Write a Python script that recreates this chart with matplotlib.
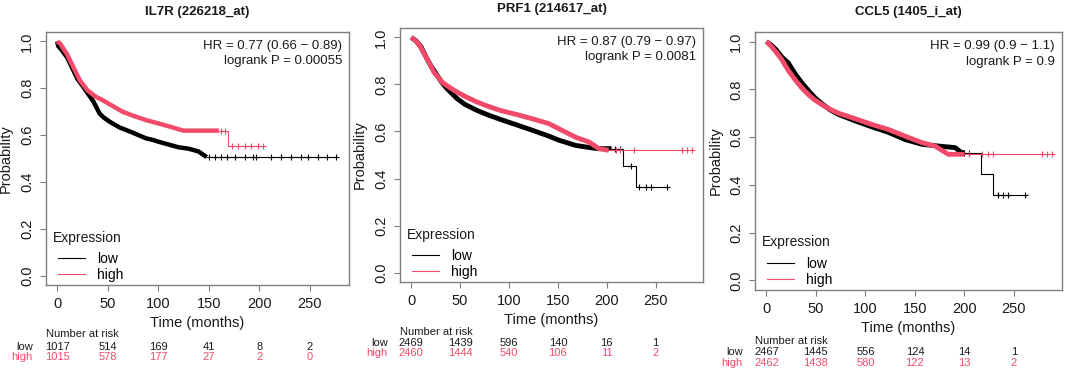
import matplotlib
matplotlib.use("Agg")
import matplotlib.pyplot as plt
import matplotlib.transforms as mtransforms
from matplotlib.lines import Line2D
import numpy as np

plt.rcParams['font.family'] = ['Liberation Sans', 'DejaVu Sans']

# ---- data ----
titles = ['IL7R (226218_at)', 'PRF1 (214617_at)', 'CCL5 (1405_i_at)']
hr_text = ['HR = 0.77 (0.66 \u2212 0.89)', 'HR = 0.87 (0.79 \u2212 0.97)', 'HR = 0.99 (0.9 \u2212 1.1)']
p_text = ['logrank P = 0.00055', 'logrank P = 0.0081', 'logrank P = 0.9']

# IL7R
il7r_low_t = [0, 1, 5, 10, 16, 20, 26, 30, 36, 42, 46, 52, 58, 62, 68, 75, 82, 88, 95, 100, 110, 120, 130, 140, 148]
il7r_low_s = [1.0, 0.98, 0.96, 0.93, 0.876, 0.84, 0.805, 0.78, 0.742, 0.692, 0.675, 0.657, 0.642, 0.632, 0.622,
              0.61, 0.597, 0.586, 0.579, 0.572, 0.56, 0.548, 0.542, 0.53, 0.506]
il7r_low_end = 276
il7r_low_cens = [150, 156.5, 162.4, 168, 176, 186, 194, 197, 212, 222, 232, 241.5, 248, 258, 267.6, 275.8]
il7r_high_t = [0, 3, 9.5, 16, 22.5, 30, 38, 45, 55, 65, 75, 88, 100, 110, 117, 125, 169.6]
il7r_high_s = [1.0, 0.99, 0.947, 0.89, 0.833, 0.791, 0.764, 0.749, 0.724, 0.699, 0.683, 0.664, 0.65, 0.638,
               0.629, 0.619, 0.555]
il7r_high_end = 205.6
il7r_high_cens = [162, 166, 172.9, 179.4, 186, 192.4, 199, 204]

# PRF1
prf1_low_t = [0, 5, 10, 16, 20, 26.6, 31, 36.8, 42, 47.1, 55, 67.5, 80, 91.5, 110, 124, 141, 151, 168, 185, 192,
              216.6, 229.6]
prf1_low_s = [1.0, 0.985, 0.96, 0.91, 0.88, 0.838, 0.81, 0.781, 0.76, 0.739, 0.715, 0.689, 0.668, 0.651, 0.625,
              0.605, 0.58, 0.563, 0.541, 0.53, 0.527, 0.452, 0.362]
prf1_low_end = 262
prf1_low_cens = [208, 214, 224.4, 232.9, 239.8, 244.9, 261.9]
prf1_high_t = [0, 5, 9.6, 16.4, 23.2, 31.7, 40, 47.1, 57, 67.5, 80, 91.5, 108, 124, 141, 158, 168, 182, 192, 202]
prf1_high_s = [1.0, 0.985, 0.958, 0.908, 0.852, 0.809, 0.785, 0.767, 0.745, 0.725, 0.705, 0.689, 0.672, 0.654,
               0.633, 0.597, 0.576, 0.555, 0.527, 0.52]
prf1_high_end = 288
prf1_high_cens = [210, 214, 227.8, 277, 282, 287.5]

# CCL5
ccl5_low_t = [0, 5, 10, 15.6, 22.2, 29, 35.8, 42.4, 49.2, 56, 64, 72.8, 89.6, 106.5, 123.2, 140, 157, 175, 190.6,
              197, 216.5, 228.5]
ccl5_low_s = [1.0, 0.985, 0.965, 0.935, 0.91, 0.865, 0.827, 0.795, 0.764, 0.74, 0.715, 0.695, 0.668, 0.643, 0.62,
              0.59, 0.57, 0.562, 0.556, 0.535, 0.445, 0.358]
ccl5_low_end = 263
ccl5_low_cens = [200, 205, 234.3, 239.4, 244.4, 261.3]
ccl5_high_t = [0, 5, 10, 15.6, 22, 29, 36, 42.4, 49, 56, 64, 72.8, 89.6, 106.5, 123.2, 140, 157, 170.4, 177, 183.8]
ccl5_high_s = [1.0, 0.98, 0.955, 0.924, 0.88, 0.84, 0.805, 0.778, 0.755, 0.736, 0.717, 0.70, 0.677, 0.653, 0.632,
               0.604, 0.577, 0.5625, 0.545, 0.528]
ccl5_high_end = 288
ccl5_high_cens = [205, 217.6, 224.2, 229.3, 278, 283, 288]

risk_times = [0, 50, 100, 150, 200, 250]
il7r_risk_low = [1017, 514, 169, 41, 8, 2]
il7r_risk_high = [1015, 578, 177, 27, 2, 0]
prf1_risk_low = [2469, 1439, 596, 140, 16, 1]
prf1_risk_high = [2460, 1444, 540, 106, 11, 2]
ccl5_risk_low = [2467, 1445, 556, 124, 14, 1]
ccl5_risk_high = [2462, 1438, 580, 122, 13, 2]

panels = [
    dict(low=(il7r_low_t, il7r_low_s, il7r_low_end, il7r_low_cens, 148),
         high=(il7r_high_t, il7r_high_s, il7r_high_end, il7r_high_cens, 160),
         risk=(il7r_risk_low, il7r_risk_high)),
    dict(low=(prf1_low_t, prf1_low_s, prf1_low_end, prf1_low_cens, 205),
         high=(prf1_high_t, prf1_high_s, prf1_high_end, prf1_high_cens, 202),
         risk=(prf1_risk_low, prf1_risk_high)),
    dict(low=(ccl5_low_t, ccl5_low_s, ccl5_low_end, ccl5_low_cens, 200),
         high=(ccl5_high_t, ccl5_high_s, ccl5_high_end, ccl5_high_cens, 200),
         risk=(ccl5_risk_low, ccl5_risk_high)),
]

# ---- layout (pixels of a 1065x369 canvas) ----
W, H = 1065, 369
boxes = [(46, 32, 349, 285), (400, 28, 703, 282), (755, 32, 1062, 290)]   # left, top, right, bottom
xlims = [(-11.1, 289), (-11.5, 298.5), (-11.5, 298.5)]
title_y = [12, 9, 12]
risk_y = [(334, 347, 357), (332, 343, 353), (341, 352, 363)]
band_lw = [3.2, 3.5, 3.5]

RED = '#F24A6A'
GREY = '#7f7f7f'
TXT = '#1a1a1a'


def value_at(t, s, x):
    i = np.searchsorted(t, x, side='right') - 1
    return np.asarray(s)[i]


def km(ax, curve, color, lw_band):
    t, s, t_end, cens, dense_to = curve
    t = np.asarray(t, float)
    s = np.asarray(s, float)
    # dense part: drawn as a thick band (censor marks piled up)
    m = t <= dense_to
    td = np.append(t[m], dense_to)
    sd = np.append(s[m], value_at(t, s, dense_to))
    ax.plot(td, sd, color=color, lw=lw_band, solid_capstyle='butt', solid_joinstyle='round')
    # tail as a thin step line
    tt = np.concatenate([[dense_to], t[~m], [t_end]])
    st = np.concatenate([[value_at(t, s, dense_to)], s[~m], [s[-1]]])
    ax.step(tt, st, where='post', color=color, lw=0.8)
    ax.plot(cens, value_at(t, s, np.asarray(cens)), '+', color=color, ms=5, mew=0.8)


fig = plt.figure(figsize=(W / 100, H / 100), dpi=100)

for k, p in enumerate(panels):
    l, tp, r, b = boxes[k]
    ax = fig.add_axes([l / W, 1 - b / H, (r - l) / W, (b - tp) / H])
    km(ax, p['low'], 'black', band_lw[k])
    km(ax, p['high'], RED, band_lw[k])

    ax.set_xlim(*xlims[k])
    ax.set_ylim(-0.04, 1.04)
    ax.set_xticks(risk_times)
    ax.set_yticks([0, 0.2, 0.4, 0.6, 0.8, 1.0])
    ax.set_yticklabels(['0.0', '0.2', '0.4', '0.6', '0.8', '1.0'], rotation=90, va='center')
    ax.tick_params(length=4.5, width=0.8, color=GREY, labelsize=10.5, labelcolor=TXT, pad=4)
    for sp in ax.spines.values():
        sp.set_color(GREY)
        sp.set_linewidth(1.0)
    ax.set_xlabel('Time (months)', fontsize=10.5, color=TXT, labelpad=4)
    ax.set_ylabel('Probability', fontsize=10.5, color=TXT, labelpad=5)

    fig.text((l + r) / 2 / W, 1 - title_y[k] / H, titles[k], ha='center', va='center',
             fontsize=9.5, fontweight='bold', color=TXT)

    ax.text(0.977, 0.945, hr_text[k], transform=ax.transAxes, ha='right', va='center', fontsize=9.5, color=TXT)
    ax.text(0.977, 0.885, p_text[k], transform=ax.transAxes, ha='right', va='center', fontsize=9.5, color=TXT)

    # legend: title as plain text, entries via legend()
    ax.text(0.024, 0.187, 'Expression', transform=ax.transAxes, ha='left', va='center', fontsize=10, color=TXT)
    handles = [Line2D([], [], color='black', lw=0.8), Line2D([], [], color=RED, lw=0.8)]
    ax.legend(handles, ['low', 'high'], loc='lower left', bbox_to_anchor=(0.04, 0.012),
              frameon=False, fontsize=10, handlelength=1.9, handletextpad=0.9,
              labelspacing=0.12, borderpad=0, borderaxespad=0)

    # number at risk table
    tr = mtransforms.blended_transform_factory(ax.transData, fig.transFigure)
    low_r, high_r = p['risk']
    y0, y1, y2 = risk_y[k]
    ax.text(xlims[k][0], 1 - y0 / H, 'Number at risk', transform=tr, ha='left', va='center', fontsize=8,
            color=TXT, clip_on=False)
    ax.text(-24, 1 - y1 / H, 'low', transform=tr, ha='right', va='center', fontsize=8, color=TXT, clip_on=False)
    ax.text(-24, 1 - y2 / H, 'high', transform=tr, ha='right', va='center', fontsize=8, color=RED, clip_on=False)
    for x, a, c in zip(risk_times, low_r, high_r):
        ax.text(x, 1 - y1 / H, str(a), transform=tr, ha='center', va='center', fontsize=8, color=TXT, clip_on=False)
        ax.text(x, 1 - y2 / H, str(c), transform=tr, ha='center', va='center', fontsize=8, color=RED, clip_on=False)

fig.savefig('out.png', dpi=100)
